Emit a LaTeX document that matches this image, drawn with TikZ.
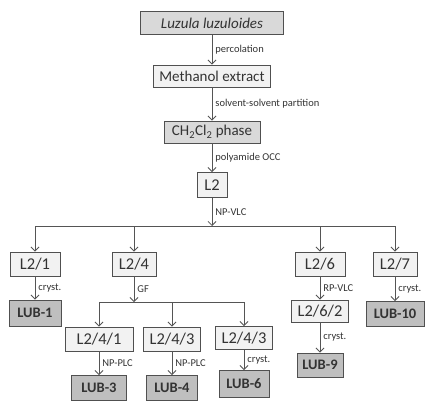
\documentclass[tikz,border=0pt]{standalone}
\usepackage{fontspec}
\setmainfont{Carlito}
\usetikzlibrary{arrows.meta,positioning}
\definecolor{palefill}{HTML}{F2F2F2}
\definecolor{midfill}{HTML}{D9D9D9}
\definecolor{darkfill}{HTML}{BFBFBF}
\definecolor{edgegray}{HTML}{505050}
\definecolor{linegray}{HTML}{555555}
\definecolor{textgray}{HTML}{333333}

\begin{document}
\begin{tikzpicture}[
    x=1pt, y=-1pt,
    base/.style={rectangle, draw=edgegray, line width=0.9pt, text=textgray, inner sep=2pt, font=\fontsize{15}{18}\selectfont},
    pale/.style={base, fill=palefill},
    frac/.style={pale, font=\fontsize{16.5}{18}\selectfont},
    grey/.style={base, fill=midfill},
    result/.style={base, fill=darkfill, font=\fontsize{14.5}{18}\selectfont\bfseries},
    arr/.style={-{Straight Barb[length=4pt,width=8pt]}, line width=0.8pt, draw=linegray},
    lbl/.style={right, inner sep=3pt, text=textgray, font=\fontsize{10.5}{12}\selectfont}
]
    \useasboundingbox (0,0) rectangle (425,401);

    % Extraction steps
    \node[grey, minimum width=143pt, minimum height=23pt] (luzula) at (212,23) {\itshape Luzula luzuloides};
    \node[pale, minimum width=117pt, minimum height=22pt] (methanol) at (212,76) {Methanol extract};
    \node[grey, minimum width=96pt, minimum height=22pt] (dcm) at (212,132) {CH\textsubscript{2}Cl\textsubscript{2} phase};
    \node[frac, minimum width=30pt, minimum height=25pt] (l2) at (212,185) {L2};
    \coordinate (bus) at (212,226);

    % Fractions
    \node[frac, minimum width=50pt, minimum height=24pt] (l21) at (35,264) {L2/1};
    \node[frac, minimum width=44pt, minimum height=24pt] (l24) at (134,264) {L2/4};
    \node[frac, minimum width=50pt, minimum height=24pt] (l26) at (320,264) {L2/6};
    \node[frac, minimum width=44pt, minimum height=24pt] (l27) at (395,264) {L2/7};
    \coordinate (gfbus) at (134,302);

    % Sub-fractions
    \node[frac, minimum width=68pt, minimum height=24pt] (l241) at (99,339) {L2/4/1};
    \node[frac, minimum width=57pt, minimum height=24pt] (l243a) at (172,339) {L2/4/3};
    \node[frac, minimum width=57pt, minimum height=23pt] (l243b) at (244,338) {L2/4/3};
    \node[frac, minimum width=57pt, minimum height=22pt] (l262) at (320,311) {L2/6/2};

    % Isolated compounds
    \node[result, minimum width=52pt, minimum height=26pt] (lub1) at (35,313) {LUB-1};
    \node[result, minimum width=55pt, minimum height=25pt] (lub3) at (99,388) {LUB-3};
    \node[result, minimum width=51pt, minimum height=25pt] (lub4) at (172,388) {LUB-4};
    \node[result, minimum width=50pt, minimum height=27pt] (lub6) at (244,384) {LUB-6};
    \node[result, minimum width=46pt, minimum height=24pt] (lub9) at (320,365) {LUB-9};
    \node[result, minimum width=58pt, minimum height=25pt] (lub10) at (395,314) {LUB-10};

    % Main column
    \draw[arr] (luzula) -- (methanol) node[lbl, midway] {percolation};
    \draw[arr] (methanol) -- (dcm) node[lbl, midway] {solvent-solvent partition};
    \draw[arr] (dcm) -- (l2) node[lbl, midway] {polyamide OCC};
    \draw[arr] (l2) -- (bus) node[lbl, midway] {NP-VLC};

    % Branches
    \draw[arr] (bus) -| (l21);
    \draw[arr] (bus) -| (l24);
    \draw[arr] (bus) -| (l26);
    \draw[arr] (bus) -| (l27);
    \draw[arr] (l24) -- (gfbus) node[lbl, midway] {GF};
    \draw[arr] (gfbus) -| (l241);
    \draw[arr] (gfbus) -| (l243a);
    \draw[arr] (gfbus) -| (l243b);

    % To compounds
    \draw[arr] (l21) -- (lub1) node[lbl, midway] {cryst.};
    \draw[arr] (l241) -- (lub3) node[lbl, midway] {NP-PLC};
    \draw[arr] (l243a) -- (lub4) node[lbl, midway] {NP-PLC};
    \draw[arr] (l243b) -- (lub6) node[lbl, midway] {cryst.};
    \draw[arr] (l26) -- (l262) node[lbl, midway] {RP-VLC};
    \draw[arr] (l262) -- (lub9) node[lbl, midway] {cryst.};
    \draw[arr] (l27) -- (lub10) node[lbl, midway] {cryst.};
\end{tikzpicture}
\end{document}
